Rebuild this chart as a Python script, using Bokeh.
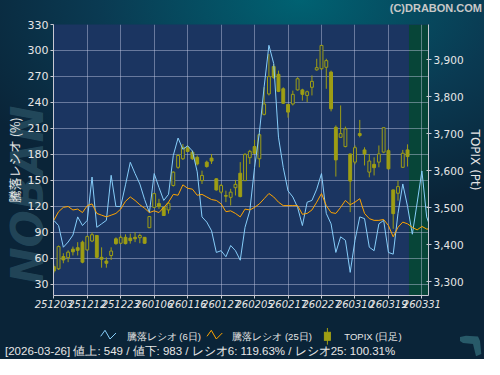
import math
from bokeh.plotting import figure
from bokeh.layouts import column
from bokeh.models import (Range1d, LinearAxis, ColumnDataSource, FixedTicker,
                          NumeralTickFormatter, BoxAnnotation, Div)
from bokeh.embed import file_html
from bokeh.resources import INLINE

# ---------------- data ----------------
dates = ["251203", "251204", "251205", "251208", "251209", "251210", "251211", "251212",
         "251215", "251216", "251217", "251218", "251219", "251222", "251223", "251224",
         "251225", "251226", "251229", "251230",
         "260105", "260106", "260107", "260108", "260109", "260113", "260114", "260115",
         "260116", "260119", "260120", "260121", "260122", "260123", "260126", "260127",
         "260128", "260129", "260130",
         "260202", "260203", "260204", "260205", "260206", "260209", "260210", "260212",
         "260213", "260216", "260217", "260218", "260219", "260220", "260224", "260225",
         "260226", "260227",
         "260302", "260303", "260304", "260305", "260306", "260309", "260310", "260311",
         "260312", "260313", "260316", "260317", "260318", "260319", "260323", "260324",
         "260325", "260326", "260327", "260330", "260331",
         "260401", "260402"]

ratio6 = [104, 98, 73, 79, 87, 108, 98, 104, 154, 96,
          100, 104, 156, 120, 120, 145, 171, 158, 146, 128,
          113, 158, 142, 127, 134, 179, 199, 186, 190, 184,
          160, 108, 102, 92, 67, 69, 62, 75, 69, 58,
          96, 115, 165, 205, 258, 306, 285, 200, 165, 138,
          131, 119, 98, 125, 127, 140, 158, 112, 100, 67,
          85, 81, 44, 81, 108, 106, 73, 69, 100, 104,
          67, 65, 112, 146, 120, 88, 124, 161, 108, 92]

ratio25 = [104, 114, 119, 120, 116, 117, 113, 121, 123, 112,
           110, 108, 110, 112, 117, 126, 131, 127, 122, 118,
           113, 115, 113, 119, 125, 134, 133, 145, 141, 140,
           133, 134, 131, 128, 127, 123, 114, 115, 112, 108,
           117, 116, 119, 123, 129, 135, 131, 125, 121, 121,
           121, 121, 111, 112, 116, 125, 135, 121, 113, 112,
           119, 127, 122, 125, 129, 112, 106, 104, 104, 105,
           98, 85, 96, 102, 100, 96, 93, 97, 94, 94]

t_open = [3341, 3335, 3368, 3365, 3388, 3392, 3407, 3386, 3410, 3425,
          3366, 3356, 3371, 3416, 3404, 3420, 3418, 3420, 3419, 3420,
          3446, 3501, 3511, 3501, 3494, 3560, 3609, 3632, 3662, 3650,
          3636, 3573, 3623, 3634, 3578, 3542, 3533, 3528, 3554, 3593,
          3573, 3635, 3665, 3632, 3752, 3807, 3881, 3860, 3821, 3779,
          3780, 3818, 3818, 3803, 3825, 3872, 3875, 3879, 3866, 3717,
          3690, 3665, 3645, 3623, 3700, 3656, 3596, 3617, 3623, 3650,
          3654, 3548, 3539, 3609, 3656]
t_high = [3347, 3398, 3377, 3385, 3395, 3407, 3411, 3425, 3433, 3426,
          3393, 3366, 3393, 3420, 3425, 3428, 3430, 3434, 3430, 3421,
          3477, 3540, 3524, 3503, 3515, 3598, 3645, 3672, 3668, 3654,
          3641, 3600, 3627, 3645, 3579, 3564, 3546, 3551, 3575, 3623,
          3647, 3656, 3683, 3700, 3825, 3915, 3888, 3870, 3825, 3780,
          3816, 3852, 3821, 3816, 3857, 3902, 3938, 3902, 3870, 3722,
          3776, 3719, 3646, 3668, 3737, 3663, 3645, 3636, 3668, 3716,
          3659, 3549, 3573, 3656, 3671]
t_low = [3323, 3332, 3350, 3353, 3371, 3371, 3350, 3384, 3407, 3364,
         3338, 3338, 3359, 3400, 3403, 3401, 3403, 3407, 3404, 3403,
         3445, 3499, 3497, 3478, 3484, 3557, 3605, 3629, 3650, 3629,
         3614, 3564, 3608, 3618, 3546, 3538, 3515, 3506, 3533, 3528,
         3572, 3618, 3645, 3609, 3749, 3803, 3848, 3812, 3780, 3743,
         3776, 3816, 3789, 3785, 3803, 3870, 3872, 3821, 3760, 3584,
         3689, 3663, 3488, 3617, 3690, 3614, 3582, 3587, 3609, 3647,
         3603, 3443, 3519, 3608, 3611]
t_close = [3329, 3395, 3359, 3380, 3381, 3385, 3353, 3422, 3427, 3366,
           3361, 3350, 3383, 3403, 3420, 3403, 3411, 3416, 3425, 3404,
           3476, 3538, 3503, 3479, 3512, 3596, 3641, 3663, 3652, 3632,
           3618, 3587, 3611, 3626, 3548, 3560, 3531, 3542, 3563, 3530,
           3644, 3652, 3647, 3697, 3780, 3854, 3852, 3814, 3782, 3758,
           3806, 3848, 3806, 3813, 3841, 3878, 3938, 3897, 3767, 3629,
           3700, 3713, 3572, 3662, 3695, 3645, 3626, 3608, 3645, 3716,
           3605, 3484, 3557, 3647, 3638]

left_ticks = [30, 60, 90, 120, 150, 180, 210, 240, 270, 300, 330]
right_ticks = [3300, 3400, 3500, 3600, 3700, 3800, 3900]
tick_step = 7

legend_labels = ["騰落レシオ (6日)", "騰落レシオ (25日)", "TOPIX (日足)"]
last_date = "2026-03-26"
n_up = 549
n_down = 983
last_r6 = 119.63
last_r25 = 100.31

# ---------------- styles ----------------
PLOT_BG = "#1b3561"
FUTURE_BG = "#074538"
GRID = "#c8cce6"
AXIS = "#c8c8d2"
TEXT = "#e6e6e6"
BLUE = "#87cefa"
ORANGE = "#ffa500"
OLIVE = "#9e9e14"
JP = "Noto Sans CJK JP"
W = 484

x_all = list(range(len(dates)))
n_c = len(t_open)
x_ticks = list(range(0, len(dates) - 1, tick_step))

# ---------------- top strip (copyright) ----------------
top_svg = (
    f'<svg xmlns="http://www.w3.org/2000/svg" width="{W}" height="14" style="display:block">'
    f'<text x="482" y="8" text-anchor="end" dominant-baseline="central" '
    f'font-family="DejaVu Sans" font-weight="bold" font-size="11px" fill="#c8c8c8">(C)DRABON.COM</text>'
    f'</svg>')
top = Div(text=top_svg, width=W, height=14, margin=(0, 0, 0, 0))

# ---------------- main chart ----------------
p = figure(width=W, height=297, output_backend="svg", toolbar_location=None,
           x_range=Range1d(-0.06, 78.38), y_range=Range1d(17.3, 330),
           min_border_left=53, min_border_right=50, min_border_top=10, min_border_bottom=16)
p.extra_y_ranges = {"topix": Range1d(3263, 3994.5)}
p.background_fill_color = PLOT_BG
p.border_fill_color = None
p.outline_line_color = None

p.add_layout(BoxAnnotation(left=n_c - 1 + 0.3, fill_color=FUTURE_BG, fill_alpha=1.0,
                           line_color=None, level="image"))

p.xgrid.ticker = FixedTicker(ticks=x_ticks)
p.ygrid.ticker = FixedTicker(ticks=left_ticks)
for g in (p.xgrid, p.ygrid):
    g.grid_line_color = GRID
    g.grid_line_alpha = 0.45
    g.grid_line_width = 1

ya = p.yaxis[0]
ya.ticker = FixedTicker(ticks=left_ticks)
ya.axis_label = "騰落レシオ (%)"
ya.axis_label_text_font = JP
ya.axis_label_text_font_size = "12.5px"
ya.axis_label_text_font_style = "normal"
ya.axis_label_text_color = TEXT
ya.axis_label_standoff = 1
ya.major_label_text_font = "DejaVu Sans"
ya.major_label_text_font_size = "11px"
ya.major_label_text_color = TEXT
ya.major_label_standoff = 2
ya.axis_line_color = AXIS
ya.major_tick_line_color = AXIS
ya.major_tick_out = 3
ya.major_tick_in = 0
ya.minor_tick_line_color = None

ra = LinearAxis(y_range_name="topix", ticker=FixedTicker(ticks=right_ticks),
                formatter=NumeralTickFormatter(format="0,0"))
ra.axis_label = "TOPIX (Pt)"
ra.axis_label_text_font = "DejaVu Sans"
ra.axis_label_text_font_size = "12px"
ra.axis_label_text_font_style = "normal"
ra.axis_label_text_color = TEXT
ra.axis_label_standoff = 1
ra.major_label_text_font = "DejaVu Sans"
ra.major_label_text_font_size = "10.5px"
ra.major_label_text_color = TEXT
ra.major_label_standoff = 2
ra.axis_line_color = AXIS
ra.major_tick_line_color = AXIS
ra.major_tick_out = 3
ra.major_tick_in = 2
ra.minor_tick_line_color = None
p.add_layout(ra, "right")

xa = p.xaxis[0]
xa.ticker = FixedTicker(ticks=x_ticks)
xa.major_label_overrides = {i: dates[i] for i in x_ticks}
xa.major_label_text_font = "DejaVu Sans"
xa.major_label_text_font_size = "10px"
xa.major_label_text_font_style = "italic"
xa.major_label_text_color = TEXT
xa.major_label_standoff = 1
xa.axis_line_color = AXIS
xa.major_tick_line_color = AXIS
xa.major_tick_out = 3
xa.major_tick_in = 0
xa.minor_tick_line_color = None

# candles
up_idx = [i for i in range(n_c) if t_close[i] >= t_open[i]]
dn_idx = [i for i in range(n_c) if t_close[i] < t_open[i]]
p.segment(x0=list(range(n_c)), y0=t_low, x1=list(range(n_c)), y1=t_high,
          line_color=OLIVE, line_width=1, y_range_name="topix")
up_src = ColumnDataSource(dict(x=up_idx, top=[t_close[i] for i in up_idx],
                               bottom=[t_open[i] for i in up_idx]))
dn_src = ColumnDataSource(dict(x=dn_idx, top=[t_open[i] for i in dn_idx],
                               bottom=[t_close[i] for i in dn_idx]))
p.vbar(x="x", top="top", bottom="bottom", width=0.6, source=up_src,
       fill_color=PLOT_BG, line_color=OLIVE, line_width=1, y_range_name="topix")
p.vbar(x="x", top="top", bottom="bottom", width=0.6, source=dn_src,
       fill_color=OLIVE, line_color=OLIVE, line_width=1, y_range_name="topix")

# ratio lines
p.line(x_all, ratio6, line_color=BLUE, line_width=1)
p.line(x_all, ratio25, line_color=ORANGE, line_width=1)

# ---------------- bottom strip (legend + status) ----------------
status = (f"[{last_date}]  値上: {n_up} /  値下: {n_down} /  "
          f"レシオ6: {last_r6:.2f}% /  レシオ25: {last_r25:.2f}%")
txt = f'font-family="{JP}" fill="{TEXT}" dominant-baseline="central"'
bottom_svg = (
    f'<svg xmlns="http://www.w3.org/2000/svg" width="{W}" height="48" style="display:block">'
    f'<polyline points="100.7,25.3 105,19.3 110,28 116,22" fill="none" stroke="{BLUE}" stroke-width="1"/>'
    f'<polyline points="207,25.3 211.3,19.3 216.3,28 222.3,22" fill="none" stroke="{ORANGE}" stroke-width="1"/>'
    f'<line x1="327.4" y1="17" x2="327.4" y2="33.7" stroke="{OLIVE}" stroke-width="1"/>'
    f'<rect x="324.4" y="21.3" width="6" height="8" fill="{OLIVE}" stroke="{OLIVE}" stroke-width="1"/>'
    f'<text x="126.7" y="25" font-size="9.5px" {txt}>{legend_labels[0]}</text>'
    f'<text x="232.3" y="25" font-size="9.5px" {txt}>{legend_labels[1]}</text>'
    f'<text x="344.3" y="25" font-size="9.5px" {txt}>{legend_labels[2]}</text>'
    f'<text x="5" y="40" font-size="11.5px" {txt}>{status}</text>'
    f'<polygon points="460,26 466,24.7 478,25.5 480,30 481.3,43 476,45.3 473,33 463,32 460,30" '
    f'fill="#285a69"/>'
    f'</svg>')
bottom = Div(text=bottom_svg, width=W, height=48, margin=(0, 0, 0, 0))

watermark = ("data:image/svg+xml;utf8,"
             "<svg xmlns='http://www.w3.org/2000/svg' width='484' height='359'>"
             "<text transform='translate(43,195) rotate(-90)' text-anchor='middle' "
             "font-family='DejaVu Sans' font-weight='bold' font-style='italic' font-size='44' "
             "fill='%233f6f80' fill-opacity='0.45'>NOBAN</text></svg>")

lay = column(top, p, bottom, spacing=0)
lay.styles = {"background": f'url("{watermark}") no-repeat, '
                            "radial-gradient(ellipse 75% 60% at 62% 0%, #006272 0%, #0a3a52 55%, #0a2438 100%)"}

open("out.html", "w").write(file_html(lay, INLINE))
